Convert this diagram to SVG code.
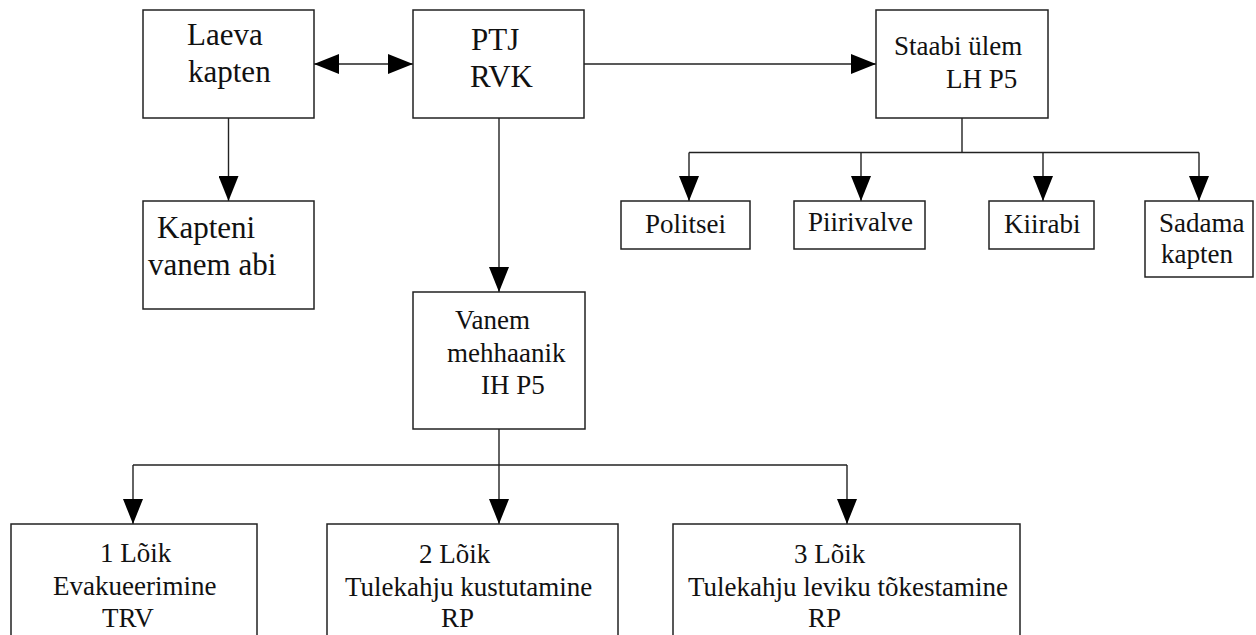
<svg xmlns="http://www.w3.org/2000/svg" width="1256" height="635" viewBox="0 0 1256 635">
<style>
.box{fill:#fff;stroke:#222;stroke-width:1.5}
.t{font-family:"Liberation Serif","Times New Roman",serif;fill:#111}
.big{font-size:31px}
.med{font-size:27px}
.c{fill:none;stroke:#222;stroke-width:1.4}
.a{marker-end:url(#ah)}
.d{marker-start:url(#ah);marker-end:url(#ah)}
</style>
<defs>
<marker id="ah" viewBox="0 0 25 20" refX="25" refY="10" markerWidth="25" markerHeight="20" markerUnits="userSpaceOnUse" orient="auto-start-reverse">
<path d="M0,0 L25,10 L0,20 Z" fill="#000"/>
</marker>
</defs>
<rect width="1256" height="635" fill="#fff"/>
<g id="connectors">
<line class="c d" x1="314" y1="64" x2="413" y2="64"/>
<line class="c a" x1="584" y1="64" x2="876" y2="64"/>
<line class="c a" x1="228.5" y1="118" x2="228.5" y2="201"/>
<line class="c a" x1="499" y1="118" x2="499" y2="292"/>
<line class="c" x1="962" y1="118" x2="962" y2="152.5"/>
<line class="c" x1="689" y1="152.5" x2="1199" y2="152.5"/>
<line class="c a" x1="689" y1="152.5" x2="689" y2="201"/>
<line class="c a" x1="861" y1="152.5" x2="861" y2="201"/>
<line class="c a" x1="1043" y1="152.5" x2="1043" y2="201"/>
<line class="c a" x1="1199" y1="152.5" x2="1199" y2="201"/>
<line class="c a" x1="499" y1="429" x2="499" y2="524"/>
<line class="c" x1="133" y1="465" x2="847" y2="465"/>
<line class="c a" x1="133" y1="465" x2="133" y2="524"/>
<line class="c a" x1="847" y1="465" x2="847" y2="524"/>
</g>
<g id="laeva">
<rect class="box" x="143" y="10" width="171" height="108"/>
<text class="t big" x="187" y="45">Laeva</text>
<text class="t big" x="188" y="82">kapten</text>
</g>
<g id="ptj">
<rect class="box" x="413" y="10" width="171" height="108"/>
<text class="t big" x="471" y="50">PTJ</text>
<text class="t big" x="470" y="87">RVK</text>
</g>
<g id="staabi">
<rect class="box" x="876" y="10" width="172" height="108"/>
<text class="t med" x="894" y="55">Staabi ülem</text>
<text class="t med" x="946" y="88">LH P5</text>
</g>
<g id="kapteni">
<rect class="box" x="143" y="201" width="171" height="108"/>
<text class="t big" x="157" y="238">Kapteni</text>
<text class="t big" x="148" y="275">vanem abi</text>
</g>
<g id="vanem">
<rect class="box" x="413" y="292" width="172" height="137"/>
<text class="t med" x="455" y="329">Vanem</text>
<text class="t med" x="447" y="362">mehhaanik</text>
<text class="t med" x="481" y="394">IH P5</text>
</g>
<g id="politsei">
<rect class="box" x="621" y="201" width="129" height="48"/>
<text class="t med" x="645" y="233">Politsei</text>
</g>
<g id="piirivalve">
<rect class="box" x="794" y="201" width="131" height="48"/>
<text class="t med" x="808" y="231">Piirivalve</text>
</g>
<g id="kiirabi">
<rect class="box" x="989" y="201" width="105" height="48"/>
<text class="t med" x="1004" y="233">Kiirabi</text>
</g>
<g id="sadama">
<rect class="box" x="1145" y="201" width="108" height="76"/>
<text class="t med" x="1159" y="232">Sadama</text>
<text class="t med" x="1161" y="263">kapten</text>
</g>
<g id="loik1">
<rect class="box" x="11" y="524" width="246" height="120"/>
<text class="t med" x="100" y="562">1 Lõik</text>
<text class="t med" x="53" y="595">Evakueerimine</text>
<text class="t med" x="102" y="627">TRV</text>
</g>
<g id="loik2">
<rect class="box" x="327" y="524" width="291" height="120"/>
<text class="t med" x="419" y="563">2 Lõik</text>
<text class="t med" x="345" y="596">Tulekahju kustutamine</text>
<text class="t med" x="441" y="627">RP</text>
</g>
<g id="loik3">
<rect class="box" x="673" y="524" width="347" height="120"/>
<text class="t med" x="794" y="563">3 Lõik</text>
<text class="t med" x="688" y="596">Tulekahju leviku tõkestamine</text>
<text class="t med" x="808" y="627">RP</text>
</g>
</svg>
